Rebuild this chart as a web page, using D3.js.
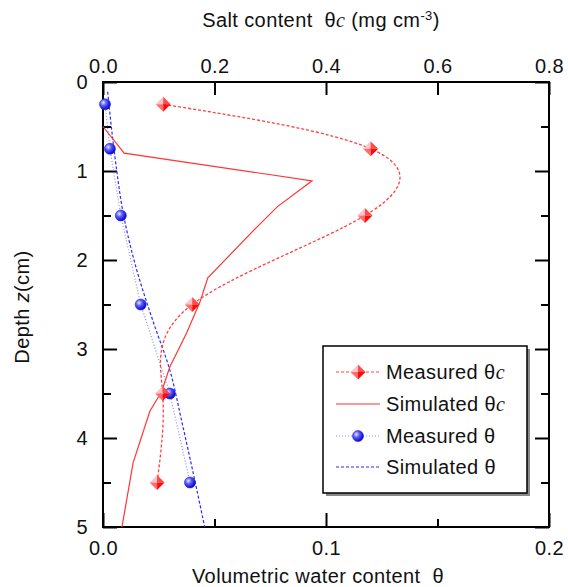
<!DOCTYPE html>
<html>
<head>
<meta charset="utf-8">
<script src="https://cdn.jsdelivr.net/npm/d3@7"></script>
<style>
  body { margin: 0; background: #fff; }
  svg text { font-family: "Liberation Sans", Arial, sans-serif; font-size: 20px; fill: #111; letter-spacing: 0.4px; }
  .serif { font-family: "Liberation Serif", "Times New Roman", serif; font-style: italic; }
</style>
</head>
<body>
<svg width="568" height="587"></svg>
<script>
// measured profiles
const depthMeas = [0.25, 0.75, 1.5, 2.5, 3.5, 4.5];
const saltMeas = [0.108, 0.480, 0.470, 0.160, 0.107, 0.097];
const waterMeas = [0.0009, 0.0031, 0.0080, 0.0169, 0.0300, 0.0390];

// simulated profiles
const depthSimSalt = [0.5, 0.8, 1.11, 1.40, 1.63, 2.2, 2.47, 2.82, 3.2, 3.48, 3.7, 4.28, 5.0];
const saltSim = [0, 0.038, 0.375, 0.313, 0.276, 0.188, 0.174, 0.150, 0.120, 0.105, 0.084, 0.054, 0.034];
const depthSimWater = [0.11, 0.91, 1.48, 2.11, 2.7, 3.24, 3.8, 4.4, 5.0];
const waterSim = [0.0021, 0.0057, 0.0091, 0.0151, 0.0226, 0.0300, 0.0352, 0.0405, 0.0456];

// ticks
const depthTicks = [0, 1, 2, 3, 4, 5];
const depthMinor = [0.5, 1.5, 2.5, 3.5, 4.5];
const saltTicks = [0, 0.2, 0.4, 0.6, 0.8];
const waterTicks = [0, 0.1, 0.2];
const waterMinor = [0.05, 0.15];

const legendLabels = ["Measured ", "Simulated ", "Measured ", "Simulated "];

const svg = d3.select("svg");
const pLeft = 103, pRight = 549, pTop = 82, pBottom = 527;

const y = d3.scaleLinear().domain([0, 5]).range([pTop, pBottom]);
const xSalt = d3.scaleLinear().domain([0, 0.8]).range([pLeft, pRight]);
const xWater = d3.scaleLinear().domain([0, 0.2]).range([pLeft, pRight]);

const defs = svg.append("defs");
const rg = defs.append("radialGradient").attr("id", "ball")
  .attr("cx", "35%").attr("cy", "35%").attr("r", "70%");
rg.append("stop").attr("offset", "0%").attr("stop-color", "#e8e8ff");
rg.append("stop").attr("offset", "40%").attr("stop-color", "#5a5aff");
rg.append("stop").attr("offset", "100%").attr("stop-color", "#0000b8");

// axes
function styleAxis(g) {
  g.select(".domain").remove();
  g.selectAll(".tick line").attr("stroke", "#000").attr("stroke-width", 2);
  g.selectAll(".tick text").attr("fill", "#111");
  g.attr("font-size", null).attr("font-family", null);
}

svg.append("g").attr("transform", `translate(${pLeft},0)`)
  .call(d3.axisLeft(y).tickValues(depthTicks).tickSize(-14).tickPadding(15).tickFormat(d3.format("d")))
  .call(styleAxis);
svg.append("g").attr("transform", `translate(${pLeft},0)`)
  .call(d3.axisLeft(y).tickValues(depthMinor).tickSize(-8).tickFormat(""))
  .call(styleAxis);
svg.append("g").attr("transform", `translate(${pRight},0)`)
  .call(d3.axisRight(y).tickValues(depthTicks).tickSize(-14).tickFormat(""))
  .call(styleAxis);
svg.append("g").attr("transform", `translate(${pRight},0)`)
  .call(d3.axisRight(y).tickValues(depthMinor).tickSize(-8).tickFormat(""))
  .call(styleAxis);
svg.append("g").attr("transform", `translate(0,${pTop})`)
  .call(d3.axisTop(xSalt).tickValues(saltTicks).tickSize(-13).tickPadding(9).tickFormat(d3.format(".1f")))
  .call(styleAxis);
svg.append("g").attr("transform", `translate(0,${pBottom})`)
  .call(d3.axisBottom(xWater).tickValues(waterTicks).tickSize(-14).tickPadding(14).tickFormat(d3.format(".1f")))
  .call(styleAxis);
svg.append("g").attr("transform", `translate(0,${pBottom})`)
  .call(d3.axisBottom(xWater).tickValues(waterMinor).tickSize(-8).tickFormat(""))
  .call(styleAxis);

// frame
svg.append("rect").attr("x", pLeft).attr("y", pTop)
  .attr("width", pRight - pLeft).attr("height", pBottom - pTop)
  .attr("fill", "none").attr("stroke", "#000").attr("stroke-width", 2);

// titles
const tt = svg.append("text").attr("x", 321).attr("y", 27).attr("text-anchor", "middle").style("white-space", "pre");
tt.append("tspan").text("Salt content  θ");
tt.append("tspan").attr("class", "serif").text("c");
tt.append("tspan").text(" (mg cm");
tt.append("tspan").attr("font-size", "13px").attr("dy", -7).text("-3");
tt.append("tspan").attr("dy", 7).text(")");

svg.append("text").attr("x", 318).attr("y", 583).attr("text-anchor", "middle")
  .style("white-space", "pre").text("Volumetric water content  θ");

const yt = svg.append("text").attr("transform", "translate(29,307) rotate(-90)").attr("text-anchor", "middle");
yt.append("tspan").text("Depth ");
yt.append("tspan").attr("font-style", "italic").text("z");
yt.append("tspan").text("(cm)");

// series
const saltMeasPts = depthMeas.map((d, i) => [xSalt(saltMeas[i]), y(d)]);
const waterMeasPts = depthMeas.map((d, i) => [xWater(waterMeas[i]), y(d)]);
const saltSimPts = depthSimSalt.map((d, i) => [xSalt(saltSim[i]), y(d)]);
const waterSimPts = depthSimWater.map((d, i) => [xWater(waterSim[i]), y(d)]);

svg.append("path").attr("d", d3.line().curve(d3.curveMonotoneY)(waterSimPts))
  .attr("fill", "none").attr("stroke", "#2a2aff").attr("stroke-width", 1.2).attr("stroke-dasharray", "3,2");
svg.append("path").attr("d", d3.line()(waterMeasPts))
  .attr("fill", "none").attr("stroke", "#8c8cff").attr("stroke-width", 1.2).attr("stroke-dasharray", "1,2");
svg.append("path").attr("d", d3.line()(saltSimPts))
  .attr("fill", "none").attr("stroke", "#ff3535").attr("stroke-width", 1.2);
svg.append("path").attr("d", d3.line().curve(d3.curveNatural)(saltMeasPts))
  .attr("fill", "none").attr("stroke", "#ff4040").attr("stroke-width", 1.3).attr("stroke-dasharray", "3,2");

function diamond(g, cx, cy) {
  const r = 7.5;
  const facets = [
    [[0, -r], [-r, 0], [0, 0], "#ffc4c4"],
    [[0, -r], [r, 0], [0, 0], "#ff4a4a"],
    [[-r, 0], [0, r], [0, 0], "#ff6e6e"],
    [[r, 0], [0, r], [0, 0], "#ff0a0a"]
  ];
  g.selectAll(null).data(facets).join("path")
    .attr("d", f => d3.line()([[cx + f[0][0], cy + f[0][1]], [cx + f[1][0], cy + f[1][1]], [cx + f[2][0], cy + f[2][1]]]) + "Z")
    .attr("fill", f => f[3]);
}
function ball(g, cx, cy) {
  g.append("circle").attr("cx", cx).attr("cy", cy).attr("r", 5.5)
    .attr("fill", "url(#ball)").attr("stroke", "#2222dd").attr("stroke-width", 0.6);
}

const marks = svg.append("g");
waterMeasPts.forEach(p => ball(marks, p[0], p[1]));
saltMeasPts.forEach(p => diamond(marks, p[0], p[1]));

// legend
const lg = svg.append("g");
lg.append("rect").attr("x", 326).attr("y", 349).attr("width", 204).attr("height", 147).attr("fill", "#8a8a8a");
lg.append("rect").attr("x", 323).attr("y", 346).attr("width", 204).attr("height", 147)
  .attr("fill", "#fff").attr("stroke", "#000").attr("stroke-width", 1.5);
const rowY = [372, 404, 436, 467];
const lineStyles = [
  { stroke: "#ff4040", dash: "3,2" },
  { stroke: "#ff3535", dash: null },
  { stroke: "#8c8cff", dash: "1,2" },
  { stroke: "#2a2aff", dash: "3,2" }
];
rowY.forEach((ry, i) => {
  lg.append("line").attr("x1", 336).attr("x2", 380).attr("y1", ry).attr("y2", ry)
    .attr("stroke", lineStyles[i].stroke).attr("stroke-width", 1.2)
    .attr("stroke-dasharray", lineStyles[i].dash);
  if (i === 0) diamond(lg, 358, ry);
  if (i === 2) ball(lg, 358, ry);
  const t = lg.append("text").attr("x", 386).attr("y", ry + 7).style("white-space", "pre");
  t.append("tspan").text(legendLabels[i] + "θ");
  if (i < 2) t.append("tspan").attr("class", "serif").text("c");
});
</script>
</body>
</html>
